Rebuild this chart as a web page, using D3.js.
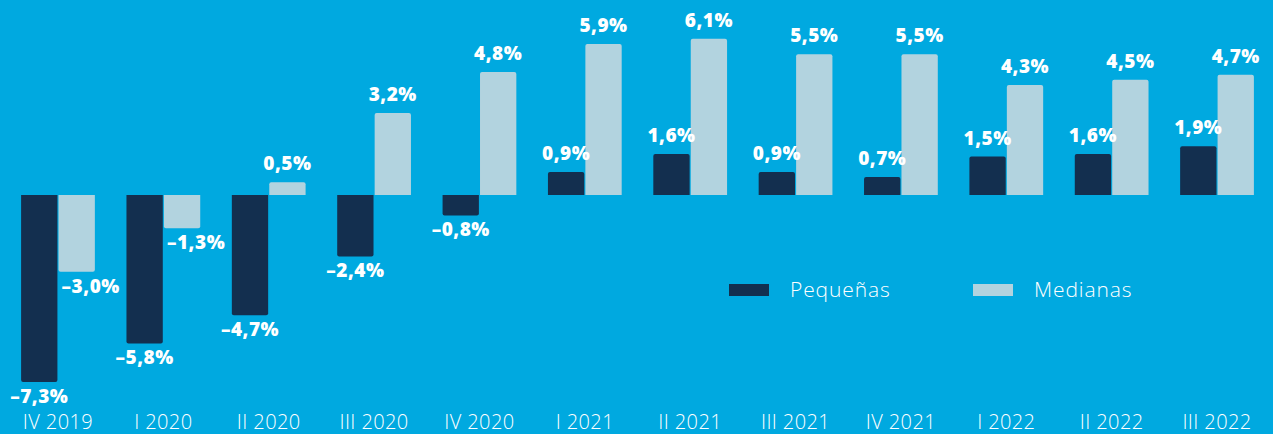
<!DOCTYPE html>
<html><head><meta charset="utf-8">
<script src="https://cdn.jsdelivr.net/npm/d3@7"></script>
<style>
html,body{margin:0;padding:0;background:#00A9E0;}
svg{display:block;}
</style></head>
<body>
<svg id="chart" width="1273" height="434"></svg>
<script>
const categories = ["IV 2019","I 2020","II 2020","III 2020","IV 2020","I 2021","II 2021","III 2021","IV 2021","I 2022","II 2022","III 2022"];
const series = ["Pequeñas","Medianas"];
const pequenas = [-7.3,-5.8,-4.7,-2.4,-0.8,0.9,1.6,0.9,0.7,1.5,1.6,1.9];
const medianas = [-3.0,-1.3,0.5,3.2,4.8,5.9,6.1,5.5,5.5,4.3,4.5,4.7];
const colors = ["#132F4F","#B2D3DF"];

const W = 1273, H = 434;
const svg = d3.select("#chart");
svg.append("rect").attr("width",W).attr("height",H).attr("fill","#00A9E0");

const x0 = d3.scaleBand().domain(categories).range([5.3,1269.7]).paddingInner(0.3).paddingOuter(0.15);
const x1 = d3.scaleBand().domain(series).range([0,x0.bandwidth()]).paddingInner(0.03);
const y = d3.scaleLinear().domain([-7.5,7.5]).range([387,3]);

const data = categories.map((c,i)=>({cat:c, vals:[{s:series[0],v:pequenas[i],k:0},{s:series[1],v:medianas[i],k:1}]}));

const fmt = v => (v<0?"\u2013":"") + d3.format(".1f")(Math.abs(v)).replace(".",",") + "%";

const g = svg.append("g");
const groups = g.selectAll("g.grp").data(data).join("g").attr("class","grp")
  .attr("transform",d=>`translate(${x0(d.cat)},0)`);

groups.selectAll("path").data(d=>d.vals).join("path")
  .attr("fill",d=>colors[d.k])
  .attr("d",d=>{
    const xa = x1(d.s), w = x1.bandwidth();
    const y0 = y(0), y1 = y(d.v);
    const r = 2;
    if (d.v >= 0) {
      return `M${xa},${y0}V${y1+r}Q${xa},${y1} ${xa+r},${y1}H${xa+w-r}Q${xa+w},${y1} ${xa+w},${y1+r}V${y0}Z`;
    } else {
      return `M${xa},${y0}V${y1-r}Q${xa},${y1} ${xa+r},${y1}H${xa+w-r}Q${xa+w},${y1} ${xa+w},${y1-r}V${y0}Z`;
    }
  });

groups.selectAll("text.val").data(d=>d.vals).join("text").attr("class","val")
  .attr("x",d=>x1(d.s)+x1.bandwidth()/2 + (d.v<0 ? (d.k===1?14:0) : 0))
  .attr("y",d=>d.v>=0 ? y(d.v)-12 : y(d.v)+21)
  .attr("text-anchor","middle")
  .attr("font-family","'Open Sans', sans-serif")
  .attr("font-weight",800)
  .attr("font-size",19)
  .attr("letter-spacing","0.5px")
  .attr("fill","#ffffff")
  .text(d=>fmt(d.v));

// x axis labels
const xAxis = d3.axisBottom(x0).tickSize(0).tickPadding(0);
const ax = svg.append("g").attr("transform","translate(0,415)").call(xAxis);
ax.select(".domain").remove();
ax.selectAll("text")
  .attr("dy","0.71em")
  .attr("font-family","'Open Sans', sans-serif")
  .attr("font-weight",300)
  .attr("font-size",20)
  .attr("letter-spacing","0.4px")
  .attr("fill","#ffffff");

// legend
const legend = svg.append("g");
const legX = [729, 973];
series.forEach((s,i)=>{
  legend.append("rect").attr("x",legX[i]).attr("y",284).attr("width",40).attr("height",12).attr("fill",colors[i]);
  legend.append("text").attr("x",legX[i]+61).attr("y",296.8)
    .attr("font-family","'Open Sans', sans-serif").attr("font-weight",300)
    .attr("font-size",21).attr("letter-spacing","0.9px").attr("fill","#ffffff").text(s);
});
</script>
</body></html>
